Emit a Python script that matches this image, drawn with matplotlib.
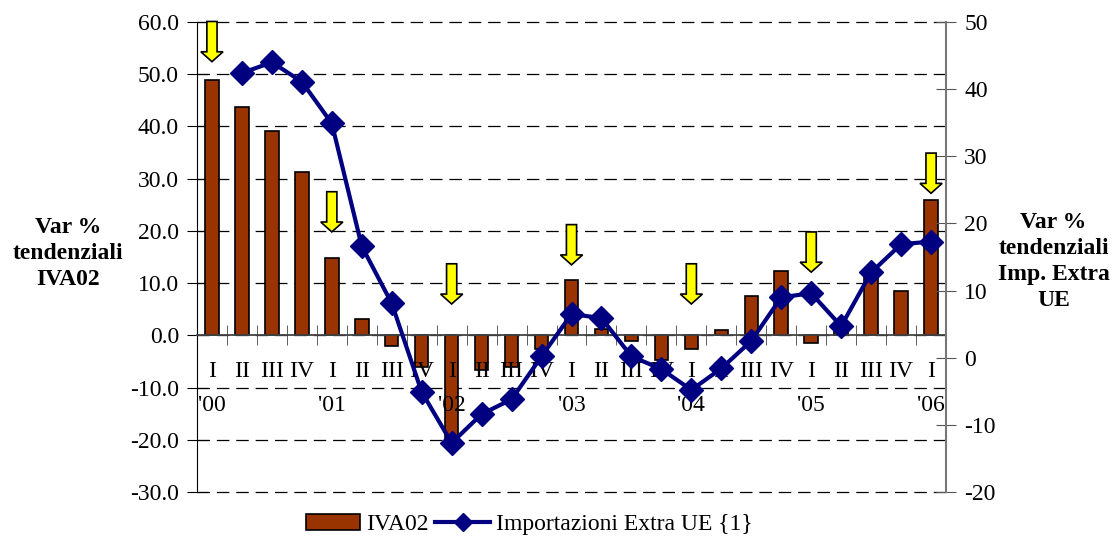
import matplotlib
matplotlib.use("Agg")
import matplotlib.pyplot as plt
from matplotlib.patches import Polygon, Patch
from matplotlib.lines import Line2D
import numpy as np

plt.rcParams['font.family'] = ['Liberation Serif', 'DejaVu Serif']
plt.rcParams['axes.unicode_minus'] = False

quarters = ["I", "II", "III", "IV"] * 6 + ["I"]
years = ["'00", "'01", "'02", "'03", "'04", "'05", "'06"]

iva02 = [48.9, 43.8, 39.1, 31.3, 14.9, 3.1, -2.0, -6.0, -20.4, -6.6, -6.0, -2.6,
         10.5, 1.3, -1.1, -4.7, -2.6, 1.0, 7.6, 12.4, -1.5, 2.0, 12.0, 8.4, 25.9]
importazioni = [np.nan, 42.4, 44.0, 41.1, 34.9, 16.6, 8.1, -5.1, -12.7, -8.4, -6.2, 0.2,
                6.5, 5.9, 0.2, -1.7, -4.8, -1.6, 2.5, 9.0, 9.6, 4.7, 12.7, 16.9, 17.3]

# yellow arrows at the first quarter of each year (tip value, left axis)
arrow_idx = [0, 4, 8, 12, 16, 20, 24]
arrow_tip = [52.4, 19.8, 6.0, 13.5, 6.0, 12.1, 27.2]

x = np.arange(len(iva02))
left_ticks = np.arange(-30, 61, 10)

fig = plt.figure(figsize=(11.16, 5.39), dpi=100)
ax = fig.add_axes([0.1765, 0.0872, 0.6712, 0.872])
ax2 = ax.twinx()

ax.bar(x, iva02, width=0.45, color="#993300", edgecolor="black", linewidth=1.2, zorder=3)
ax2.plot(x, importazioni, color="#000080", lw=3, marker="D", ms=12, zorder=4)

ax.set_xlim(-0.5, len(iva02) - 0.5)
ax.set_ylim(-30, 60)
ax.set_yticks(left_ticks)
ax.set_yticklabels([f"{v:.1f}" for v in left_ticks], fontsize=17)
ax2.set_ylim(-20, 50)
ax2.set_yticks(np.arange(-20, 51, 10))
ax2.tick_params(axis="y", labelsize=17, direction="inout", length=14, color="#555555", pad=6)
ax.tick_params(axis="y", direction="inout", length=14, pad=6)

# dashed gridlines (drawn by hand so the -30 line is not clipped)
ax.hlines(left_ticks, -0.5, len(iva02) - 0.5, colors="black", lw=0.9,
          linestyles=[(0, (10, 5.5))], zorder=1, clip_on=False)

for a in (ax, ax2):
    a.spines["top"].set_visible(False)
ax2.spines["bottom"].set_visible(False)
ax2.spines["left"].set_visible(False)
ax2.spines["right"].set_color("#777777")
ax2.spines["right"].set_linewidth(1.5)
ax.spines["right"].set_visible(False)
ax.spines["bottom"].set_position(("data", 0))
ax.spines["bottom"].set_color("#444444")
ax.spines["bottom"].set_linewidth(1.3)
ax.spines["bottom"].set_zorder(5)

ax.set_xticks([])
ax.set_xticks(np.arange(-0.5, len(iva02), 1.0), minor=True)
ax.tick_params(axis="x", which="minor", direction="inout", length=14, color="#444444")
ax.tick_params(axis="x", which="minor", labelbottom=False)

for i, q in enumerate(quarters):
    ax.text(i, -7.0, q, ha="center", va="center", fontsize=17, zorder=6)
for k, yr in enumerate(years):
    ax.text(arrow_idx[k], -13.5, yr, ha="center", va="center", fontsize=17, zorder=6)

# arrows
sw, hw, hh, total = 0.17, 0.37, 1.9, 7.7
for i, tip in zip(arrow_idx, arrow_tip):
    top = tip + total
    pts = [(i - sw, top), (i + sw, top), (i + sw, tip + hh), (i + hw, tip + hh),
           (i, tip), (i - hw, tip + hh), (i - sw, tip + hh)]
    poly = Polygon(pts, closed=True, facecolor="#ffff00", edgecolor="black",
                   lw=1.2, transform=ax.transData, clip_on=False, zorder=10)
    ax2.add_patch(poly)

fig.text(0.061, 0.53, "Var %\ntendenziali\nIVA02", ha="center", va="center",
         fontsize=17, fontweight="bold", linespacing=1.3)
fig.text(0.944, 0.515, "Var %\ntendenziali\nImp. Extra\nUE", ha="center", va="center",
         fontsize=17, fontweight="bold", linespacing=1.3)

handles = [Patch(facecolor="#993300", edgecolor="black", lw=1.2, label="IVA02"),
           Line2D([], [], color="#000080", lw=3, marker="D", ms=9,
                  label="Importazioni Extra UE {1}")]
fig.legend(handles=handles, loc="center", bbox_to_anchor=(0.474, 0.027), ncol=2,
           frameon=False, fontsize=17, handlelength=2.3, columnspacing=0.3,
           handletextpad=0.25, borderpad=0.1)

fig.savefig("out.png", dpi=100)
